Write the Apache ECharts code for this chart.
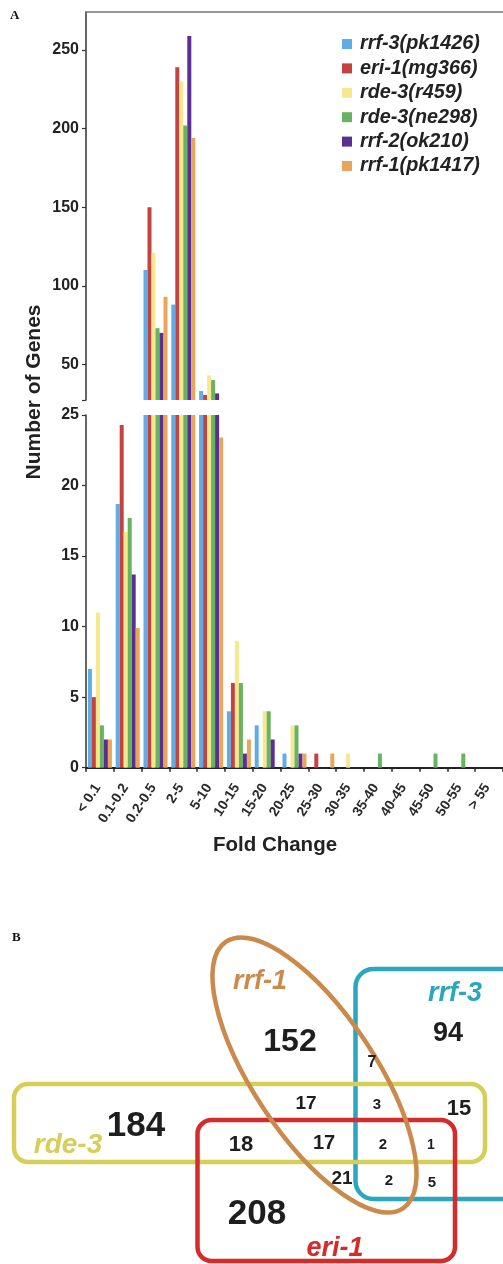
<!DOCTYPE html>
<html>
<head>
<meta charset="utf-8">
<script src="https://cdn.jsdelivr.net/npm/echarts@6/dist/echarts.min.js"></script>
<style>
html,body{margin:0;padding:0;background:#fff;}
#chart{width:503px;height:1264px;}
</style>
</head>
<body>
<div id="chart"></div>
<script>
// ---- Panel A data ----
const categories = ['< 0.1','0.1-0.2','0.2-0.5','2-5','5-10','10-15','15-20','20-25','25-30','30-35','35-40','40-45','45-50','50-55','> 55'];
const seriesNames = ['rrf-3(pk1426)','eri-1(mg366)','rde-3(r459)','rde-3(ne298)','rrf-2(ok210)','rrf-1(pk1417)'];
const rrf3_pk1426 = [7, 18.7, 110, 88, 33, 4, 3, 1, 0, 0, 0, 0, 0, 0, 0];
const eri1_mg366  = [5, 24.3, 150, 239, 30.5, 6, 0, 0, 1, 0, 0, 0, 0, 0, 0];
const rde3_r459   = [11, 16.7, 121, 230, 43, 9, 4, 3, 0, 1, 0, 0, 0, 0, 0];
const rde3_ne298  = [3, 17.7, 73, 202, 40, 6, 4, 3, 0, 0, 1, 0, 1, 1, 0];
const rrf2_ok210  = [2, 13.7, 70, 259, 31.5, 1, 2, 1, 0, 0, 0, 0, 0, 0, 0];
const rrf1_pk1417 = [2, 9.9, 93, 194, 23.4, 2, 0, 1, 1, 0, 0, 0, 0, 0, 0];
const upperTicks = [50, 100, 150, 200, 250];
const lowerTicks = [0, 5, 10, 15, 20, 25];

// ---- Panel B data ----
const vennSets = ['rrf-1', 'rrf-3', 'rde-3', 'eri-1'];
const vennRegions = ['rrf-1 only','rrf-3 only','rde-3 only','eri-1 only','rrf-1∩rde-3','rrf-1∩rrf-3','rrf-1∩rrf-3∩rde-3','rrf-3∩rde-3','rde-3∩eri-1','rrf-1∩rde-3∩eri-1','all four','rrf-3∩rde-3∩eri-1','rrf-1∩eri-1','rrf-1∩rrf-3∩eri-1','rrf-3∩eri-1'];
const vennCounts = [152, 94, 184, 208, 17, 7, 3, 15, 18, 17, 2, 1, 21, 2, 5];

// ---- styling / layout (not data) ----
const colors = ['#60ace5', '#c4423f', '#f5e88e', '#67b35f', '#5a2e92', '#e9a65a'];
const seriesData = [rrf3_pk1426, eri1_mg366, rde3_r459, rde3_ne298, rrf2_ok210, rrf1_pk1417];
const FONT = '"Liberation Sans", Arial, Helvetica, sans-serif';
const setColors = {'rrf-1': '#c98a4b', 'rrf-3': '#2aa6bd', 'rde-3': '#d5ce58', 'eri-1': '#d42b2b'};
// positions/sizes of venn labels [x, y, fontSize]
const regionPos = [
  [290, 1042, 32], [448, 1034, 27], [136, 1126, 35], [257, 1214, 35],
  [306, 1104, 19], [372, 1063, 16], [377, 1105, 15], [459, 1109, 22],
  [241, 1145, 22], [324, 1143, 20], [383, 1145, 15], [431, 1145, 14],
  [342, 1179, 19], [389, 1181, 15], [432, 1183, 15]
];
const setLabelPos = {'rrf-1': [260, 982, 27], 'rrf-3': [455, 994, 27], 'rde-3': [68, 1145, 28], 'eri-1': [335, 1249, 27]};

const UP_MIN = 27.3, UP_MAX = 274.2;
const GRID_LEFT = 86, GRID_W = 420;

const series = [];
seriesNames.forEach((name, i) => {
  series.push({
    name, type: 'bar', xAxisIndex: 0, yAxisIndex: 0,
    data: seriesData[i], barWidth: 4, barGap: '0%', clip: true,
    itemStyle: {color: colors[i]}, emphasis: {disabled: true}
  });
  series.push({
    name, type: 'bar', xAxisIndex: 1, yAxisIndex: 1,
    data: seriesData[i], barWidth: 4, barGap: '0%', clip: true,
    itemStyle: {color: colors[i]}, emphasis: {disabled: true}
  });
});

const graphic = [];
graphic.push({type: 'text', x: 10, y: 9, style: {text: 'A', font: 'bold 13px "Liberation Serif", "DejaVu Serif", serif', fill: '#111'}});
graphic.push({type: 'text', x: 12, y: 931, style: {text: 'B', font: 'bold 13px "Liberation Serif", "DejaVu Serif", serif', fill: '#111'}});
graphic.push({type: 'text', x: 34, y: 392, rotation: Math.PI / 2,
  style: {text: 'Number of Genes', font: 'bold 21px ' + FONT, fill: '#222', textAlign: 'center', textVerticalAlign: 'middle'}});
graphic.push({type: 'text', x: 275, y: 845,
  style: {text: 'Fold Change', font: 'bold 20.5px ' + FONT, fill: '#222', textAlign: 'center', textVerticalAlign: 'middle'}});

// Venn shapes
graphic.push({type: 'rect', shape: {x: 355.5, y: 969, width: 220, height: 230, r: 18},
  style: {fill: 'none', stroke: setColors['rrf-3'], lineWidth: 4.5}});
graphic.push({type: 'rect', shape: {x: 14, y: 1084, width: 471, height: 78, r: 14},
  style: {fill: 'none', stroke: setColors['rde-3'], lineWidth: 4.5}});
graphic.push({type: 'rect', shape: {x: 197.5, y: 1120, width: 257.5, height: 141, r: 14},
  style: {fill: 'none', stroke: setColors['eri-1'], lineWidth: 4.5}});
graphic.push({type: 'ellipse', x: 314.5, y: 1075, rotation: 0.586, shape: {cx: 0, cy: 0, rx: 61, ry: 160},
  style: {fill: 'none', stroke: setColors['rrf-1'], lineWidth: 4.5}});

vennSets.forEach(s => {
  const p = setLabelPos[s];
  graphic.push({type: 'text', x: p[0], y: p[1],
    style: {text: s, font: 'italic bold ' + p[2] + 'px ' + FONT, fill: setColors[s], textAlign: 'center', textVerticalAlign: 'middle'}});
});
vennCounts.forEach((c, i) => {
  const p = regionPos[i];
  graphic.push({type: 'text', x: p[0], y: p[1],
    style: {text: String(c), font: 'bold ' + p[2] + 'px ' + FONT, fill: '#1e1e1e', textAlign: 'center', textVerticalAlign: 'middle'}});
});

const option = {
  animation: false,
  backgroundColor: '#fff',
  textStyle: {fontFamily: FONT},
  legend: {
    data: seriesNames, orient: 'vertical', left: 342, top: 34, padding: 0,
    itemWidth: 10, itemHeight: 10, itemGap: 4.4, icon: 'rect',
    textStyle: {fontSize: 19.8, fontStyle: 'italic', fontWeight: 'bold', color: '#222', fontFamily: FONT, lineHeight: 20, padding: [0, 0, 0, 3]}
  },
  grid: [
    {left: GRID_LEFT, top: 12, width: GRID_W, height: 388},
    {left: GRID_LEFT, top: 415, width: GRID_W, height: 352.7}
  ],
  xAxis: [
    {type: 'category', gridIndex: 0, data: categories, position: 'top',
      axisLine: {show: true, lineStyle: {color: '#777', width: 1.5}},
      axisTick: {show: false}, axisLabel: {show: false}, splitLine: {show: false}},
    {type: 'category', gridIndex: 1, data: categories,
      axisLine: {show: true, lineStyle: {color: '#222', width: 2}},
      axisTick: {show: true, length: 4, lineStyle: {color: '#222', width: 1.5}},
      axisLabel: {interval: 0, rotate: 57, fontSize: 14, fontWeight: 'bold', color: '#2a2a2a', margin: 14, padding: [0, 4, 0, 0], fontFamily: FONT},
      splitLine: {show: false}}
  ],
  yAxis: [
    {type: 'value', gridIndex: 0, min: UP_MIN, max: UP_MAX,
      axisLine: {show: true, lineStyle: {color: '#333', width: 1.5}},
      axisTick: {show: true, length: 4, customValues: [UP_MIN].concat(upperTicks), lineStyle: {color: '#333', width: 1.2}},
      axisLabel: {customValues: upperTicks, fontSize: 16, fontWeight: 'bold', color: '#222', margin: 7, fontFamily: FONT},
      splitLine: {show: false}},
    {type: 'value', gridIndex: 1, min: 0, max: 25, interval: 5,
      axisLine: {show: true, lineStyle: {color: '#333', width: 1.5}},
      axisTick: {show: true, length: 4, lineStyle: {color: '#333', width: 1.2}},
      axisLabel: {fontSize: 16, fontWeight: 'bold', color: '#222', margin: 7, fontFamily: FONT},
      splitLine: {show: false}}
  ],
  series,
  graphic
};

const chart = echarts.init(document.getElementById('chart'), null, {renderer: 'canvas'});
chart.setOption(option);
</script>
</body>
</html>
